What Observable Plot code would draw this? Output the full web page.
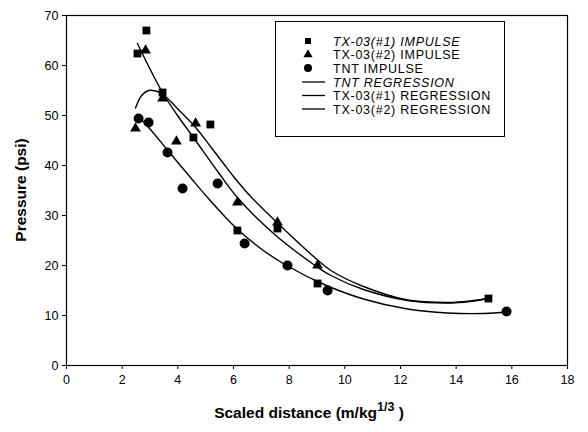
<!DOCTYPE html>
<html>
<head>
<meta charset="utf-8">
<script src="https://cdn.jsdelivr.net/npm/d3@7"></script>
<script src="https://cdn.jsdelivr.net/npm/@observablehq/plot@0.6"></script>
<style>
  html, body { margin: 0; padding: 0; background: #fff; }
  #chart { width: 588px; height: 432px; }
</style>
</head>
<body>
<div id="chart"></div>
<script>
// ---- data ----
const tx1X = [2.55, 2.87, 3.45, 4.56, 5.17, 6.14, 7.58, 9.02, 15.16];
const tx1Y = [62.4, 67.0, 54.6, 45.6, 48.2, 27.0, 27.4, 16.4, 13.4];

const tx2X = [2.48, 2.84, 3.45, 3.95, 4.64, 6.14, 7.58, 9.02];
const tx2Y = [47.4, 63.0, 53.4, 44.8, 48.4, 32.6, 28.6, 20.0];

const tntX = [2.59, 2.95, 3.63, 4.17, 5.43, 6.40, 7.94, 9.38, 15.81];
const tntY = [49.4, 48.6, 42.6, 35.4, 36.4, 24.4, 20.0, 15.0, 10.8];

// regression curves
const tntRegX = [2.62, 3.0, 3.6, 4.5, 5.1, 6.0, 7.0, 7.94, 9.3, 10.67, 12.25, 13.7, 15.0, 15.85];
const tntRegY = [49.6, 47.3, 43.3, 37.3, 33.4, 28.0, 23.3, 19.9, 16.1, 13.3, 11.3, 10.5, 10.4, 10.7];

const tx1RegX = [2.55, 3.0, 3.45, 4.0, 4.56, 5.46, 6.14, 7.44, 8.88, 9.5, 10.67, 12.25, 13.7, 14.5, 15.16];
const tx1RegY = [64.4, 59.3, 54.6, 49.9, 45.6, 38.6, 33.6, 26.4, 20.2, 18.0, 15.2, 13.0, 12.5, 12.8, 13.4];

const tx2RegX = [2.48, 2.7, 2.95, 3.2, 3.45, 4.0, 4.64, 5.2, 5.64, 6.0, 6.6, 7.6, 9.0, 9.5, 10.67, 12.25, 13.7, 14.5, 15.16];
const tx2RegY = [51.5, 54.0, 55.0, 54.9, 54.3, 51.3, 47.6, 43.6, 40.4, 37.8, 33.9, 28.4, 21.2, 19.0, 15.8, 13.1, 12.6, 12.9, 13.4];

const xTicks = [0, 2, 4, 6, 8, 10, 12, 14, 16, 18];
const yTicks = [0, 10, 20, 30, 40, 50, 60, 70];

const legendLabels = [
  "TX-03(#1) IMPULSE", "TX-03(#2) IMPULSE", "TNT IMPULSE",
  "TNT REGRESSION", "TX-03(#1) REGRESSION", "TX-03(#2) REGRESSION"
];
const legendItalic = [true, false, false, true, false, false];

// ---- build tables ----
const pts = (xs, ys) => xs.map((x, i) => ({x, y: ys[i]}));
const tx1 = pts(tx1X, tx1Y), tx2 = pts(tx2X, tx2Y), tnt = pts(tntX, tntY);
const tntReg = pts(tntRegX, tntRegY), tx1Reg = pts(tx1RegX, tx1RegY), tx2Reg = pts(tx2RegX, tx2RegY);

const FONT = "'Liberation Sans', Arial, Helvetica, sans-serif";

const chart = Plot.plot({
  width: 588,
  height: 432,
  marginLeft: 66,
  marginRight: 21,
  marginTop: 15,
  marginBottom: 67,
  style: {fontFamily: FONT, fontSize: "12.5px", color: "#000", background: "#fff"},
  x: {domain: [0, 18]},
  y: {domain: [0, 70]},
  marks: [
    Plot.frame({stroke: "#000", strokeWidth: 1.2}),
    Plot.axisX({ticks: xTicks, tickSize: 4, tickPadding: 6, label: null, tickFormat: d => String(d)}),
    Plot.axisY({ticks: yTicks, tickSize: 4, tickPadding: 4, label: null, tickFormat: d => String(d)}),
    Plot.line(tntReg, {x: "x", y: "y", curve: "catmull-rom", stroke: "#000", strokeWidth: 1.4}),
    Plot.line(tx1Reg, {x: "x", y: "y", curve: "catmull-rom", stroke: "#000", strokeWidth: 1.4}),
    Plot.line(tx2Reg, {x: "x", y: "y", curve: "catmull-rom", stroke: "#000", strokeWidth: 1.4}),
    Plot.dot(tx1, {x: "x", y: "y", symbol: "square", r: 4.4, fill: "#000", stroke: "none"}),
    Plot.dot(tx2, {x: "x", y: "y", symbol: "triangle", r: 4.0, fill: "#000", stroke: "none"}),
    Plot.dot(tnt, {x: "x", y: "y", symbol: "circle", r: 5, fill: "#000", stroke: "none"})
  ]
});

document.getElementById("chart").appendChild(chart);

// ---- axis titles and legend added into the same SVG ----
const svg = d3.select(chart);

svg.append("text")
  .attr("transform", "translate(26,190) rotate(-90)")
  .attr("text-anchor", "middle")
  .attr("font-family", FONT)
  .attr("font-weight", "bold")
  .attr("font-size", 15.5)
  .attr("fill", "#000")
  .text("Pressure (psi)");

const xt = svg.append("text")
  .attr("x", 309).attr("y", 418)
  .attr("text-anchor", "middle")
  .attr("font-family", FONT)
  .attr("font-weight", "bold")
  .attr("font-size", 15.5)
  .attr("fill", "#000");
xt.append("tspan").text("Scaled distance (m/kg");
xt.append("tspan").attr("dy", -7).attr("font-size", 12.5).text("1/3");
xt.append("tspan").attr("dy", 7).text(" )");

// legend
const lg = svg.append("g");
lg.append("rect")
  .attr("x", 275.5).attr("y", 21.5).attr("width", 229).attr("height", 115)
  .attr("fill", "#fff").attr("stroke", "#000").attr("stroke-width", 1);
const rowY = [41, 54.5, 68, 82, 95.5, 109];
const sym = [d3.symbolSquare, d3.symbolTriangle, d3.symbolCircle];
const symSize = [Math.PI * 3.4 * 3.4, Math.PI * 3.4 * 3.4, Math.PI * 4 * 4];
legendLabels.forEach((lab, i) => {
  if (i < 3) {
    lg.append("path")
      .attr("d", d3.symbol(sym[i], symSize[i])())
      .attr("transform", `translate(308,${rowY[i]})`)
      .attr("fill", "#000");
  } else {
    lg.append("line")
      .attr("x1", 302).attr("x2", 325)
      .attr("y1", rowY[i]).attr("y2", rowY[i])
      .attr("stroke", "#000").attr("stroke-width", 1.3);
  }
  lg.append("text")
    .attr("x", 333).attr("y", rowY[i])
    .attr("dy", "0.36em")
    .attr("text-anchor", "start")
    .attr("font-family", FONT)
    .attr("font-size", 12.5)
    .attr("letter-spacing", "0.75px")
    .attr("font-style", legendItalic[i] ? "italic" : "normal")
    .attr("fill", "#000")
    .text(lab);
});
</script>
</body>
</html>
